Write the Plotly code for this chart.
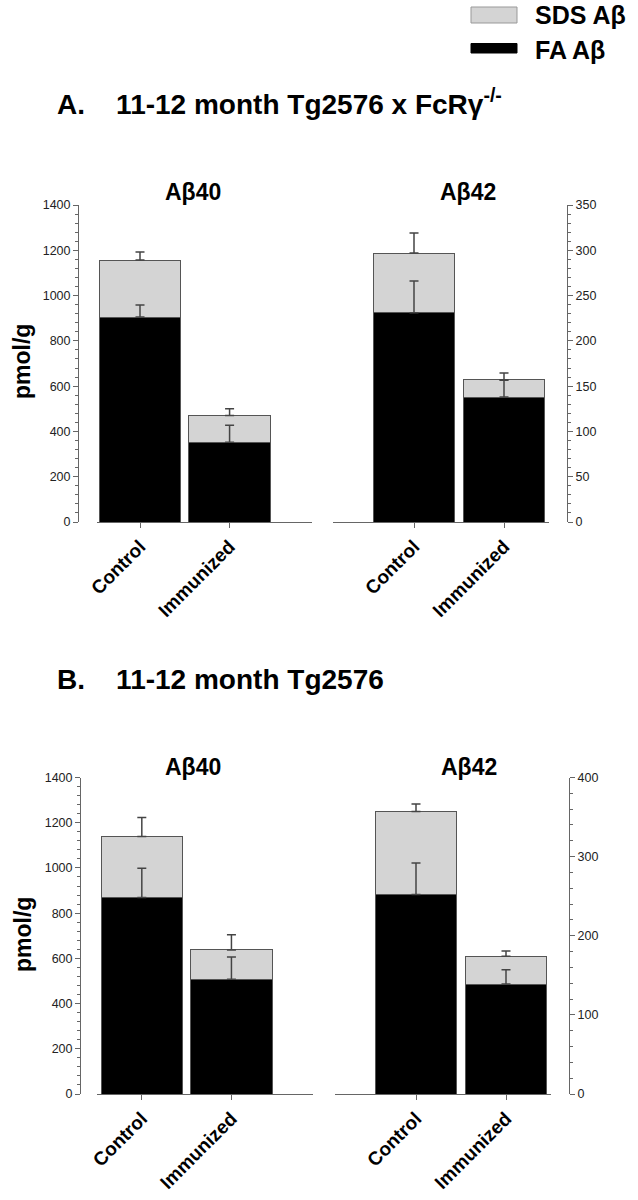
import plotly.graph_objects as go

W, H = 638, 1200

categories = ["Control", "Immunized"]

# Panel A: 11-12 month Tg2576 x FcRγ-/-
a40_fa = [905, 352]
a40_sds = [252, 118]
a40_fa_err = [53, 75]
a40_total_err = [35, 30]

a42_fa = [231, 138]
a42_sds = [66, 19]
a42_fa_err = [35, 18.5]
a42_total_err = [22, 7.5]

# Panel B: 11-12 month Tg2576
b40_fa = [869, 508]
b40_sds = [270, 129]
b40_fa_err = [130, 98]
b40_total_err = [84, 67]

b42_fa = [252, 139]
b42_sds = [105, 35]
b42_fa_err = [40, 18]
b42_total_err = [9.4, 6.6]

FONT = "Liberation Sans, Arial, sans-serif"
AXC = "#666666"
SDS_COLOR = "#d4d4d4"
ERRC = "#444444"

def px(x):
    return x / W

def py(y):
    return 1 - y / H

fig = go.Figure()

panels = [
    ("x", "y", a40_fa, a40_sds, a40_fa_err, a40_total_err),
    ("x2", "y2", a42_fa, a42_sds, a42_fa_err, a42_total_err),
    ("x3", "y3", b40_fa, b40_sds, b40_fa_err, b40_total_err),
    ("x4", "y4", b42_fa, b42_sds, b42_fa_err, b42_total_err),
]

for xa, ya, fa, sds, fa_err, tot_err in panels:
    fig.add_trace(go.Bar(x=categories, y=fa, xaxis=xa, yaxis=ya, width=0.91,
                         marker=dict(color="black", line=dict(color="#555555", width=1)),
                         name="FA Aβ", showlegend=False))
    fig.add_trace(go.Bar(x=categories, y=sds, xaxis=xa, yaxis=ya, width=0.91,
                         marker=dict(color=SDS_COLOR, line=dict(color="#555555", width=1)),
                         name="SDS Aβ", showlegend=False))
    total = [f + s for f, s in zip(fa, sds)]
    for yv, ev in ((fa, fa_err), (total, tot_err)):
        fig.add_trace(go.Scatter(x=categories, y=yv, xaxis=xa, yaxis=ya, mode="markers",
                                 marker=dict(size=1, color="rgba(0,0,0,0)"),
                                 error_y=dict(type="data", symmetric=False, array=ev,
                                              arrayminus=[0] * len(ev), color=ERRC,
                                              thickness=1.5, width=4.5),
                                 showlegend=False, hoverinfo="skip"))

def xaxis_cfg(x0, x1, rng, anchor):
    return dict(domain=[px(x0), px(x1)], range=rng, anchor=anchor, showline=True,
                linecolor=AXC, linewidth=1, ticks="outside", ticklen=5, tickcolor=AXC,
                tickangle=-45, tickfont=dict(family=FONT, size=19, color="black", weight="bold"),
                showgrid=False, zeroline=False, fixedrange=True, automargin=False)

def yaxis_cfg(top, bot, ymax, dtick, mdtick, pos, side):
    return dict(domain=[py(bot), py(top)], range=[0, ymax], anchor="free", position=px(pos),
                side=side, showline=True, linecolor=AXC, linewidth=1, ticks="outside",
                ticklen=5, tickcolor=AXC, dtick=dtick,
                minor=dict(dtick=mdtick, ticks="outside", ticklen=3, tickcolor=AXC),
                tickfont=dict(family=FONT, size=12.5, color="#222222"),
                showgrid=False, zeroline=False, fixedrange=True, automargin=False)

fig.update_layout(
    template="none",
    width=W, height=H, autosize=False,
    margin=dict(l=0, r=0, t=0, b=0, pad=0, autoexpand=False),
    paper_bgcolor="white", plot_bgcolor="white",
    barmode="stack", bargap=0.09,
    font=dict(family=FONT, color="black"),
    xaxis=xaxis_cfg(97, 312, [-0.48, 1.92], "y"),
    yaxis=yaxis_cfg(205, 522, 1400, 200, 40, 78, "left"),
    xaxis2=xaxis_cfg(333, 549, [-0.9, 1.5], "y2"),
    yaxis2=yaxis_cfg(205, 522, 350, 50, 10, 567, "right"),
    xaxis3=xaxis_cfg(97, 313, [-0.5, 1.91], "y3"),
    yaxis3=yaxis_cfg(777.5, 1094, 1400, 200, 40, 80, "left"),
    xaxis4=xaxis_cfg(335, 551, [-0.9, 1.5], "y4"),
    yaxis4=yaxis_cfg(777.5, 1094, 400, 100, 20, 569, "right"),
)

ann = []
def text(x, y, t, size, xanchor="center", angle=0):
    ann.append(dict(x=px(x), y=py(y), xref="paper", yref="paper", text=t, showarrow=False,
                    xanchor=xanchor, yanchor="middle", textangle=angle,
                    font=dict(family=FONT, size=size, color="black")))

sp = "\u00a0" * 4
text(55, 102, "<b>A." + sp + "11-12 month Tg2576 x FcRγ<sup>-/-</sup></b>", 28, "left")
text(55, 679, "<b>B." + sp + "11-12 month Tg2576</b>", 28, "left")
text(193, 192, "<b>Aβ40</b>", 23)
text(468, 192, "<b>Aβ42</b>", 23)
text(193, 767, "<b>Aβ40</b>", 23)
text(469, 767, "<b>Aβ42</b>", 23)
text(22, 362, "<b>pmol/g</b>", 23, angle=-90)
text(23, 935, "<b>pmol/g</b>", 23, angle=-90)
text(533, 15, "<b>SDS Aβ</b>", 25, "left")
text(533, 50, "<b>FA Aβ</b>", 25, "left")
fig.update_layout(annotations=ann)

fig.add_shape(type="rect", xref="paper", yref="paper", x0=px(471), x1=px(517), y0=py(23), y1=py(7),
              fillcolor=SDS_COLOR, line=dict(color="#999999", width=1))
fig.add_shape(type="rect", xref="paper", yref="paper", x0=px(471), x1=px(517), y0=py(53), y1=py(43.5),
              fillcolor="black", line=dict(color="black", width=1))

fig.write_html("out.html", config={"displayModeBar": False},
               post_script="document.body.style.margin='0';document.body.style.padding='0';")
